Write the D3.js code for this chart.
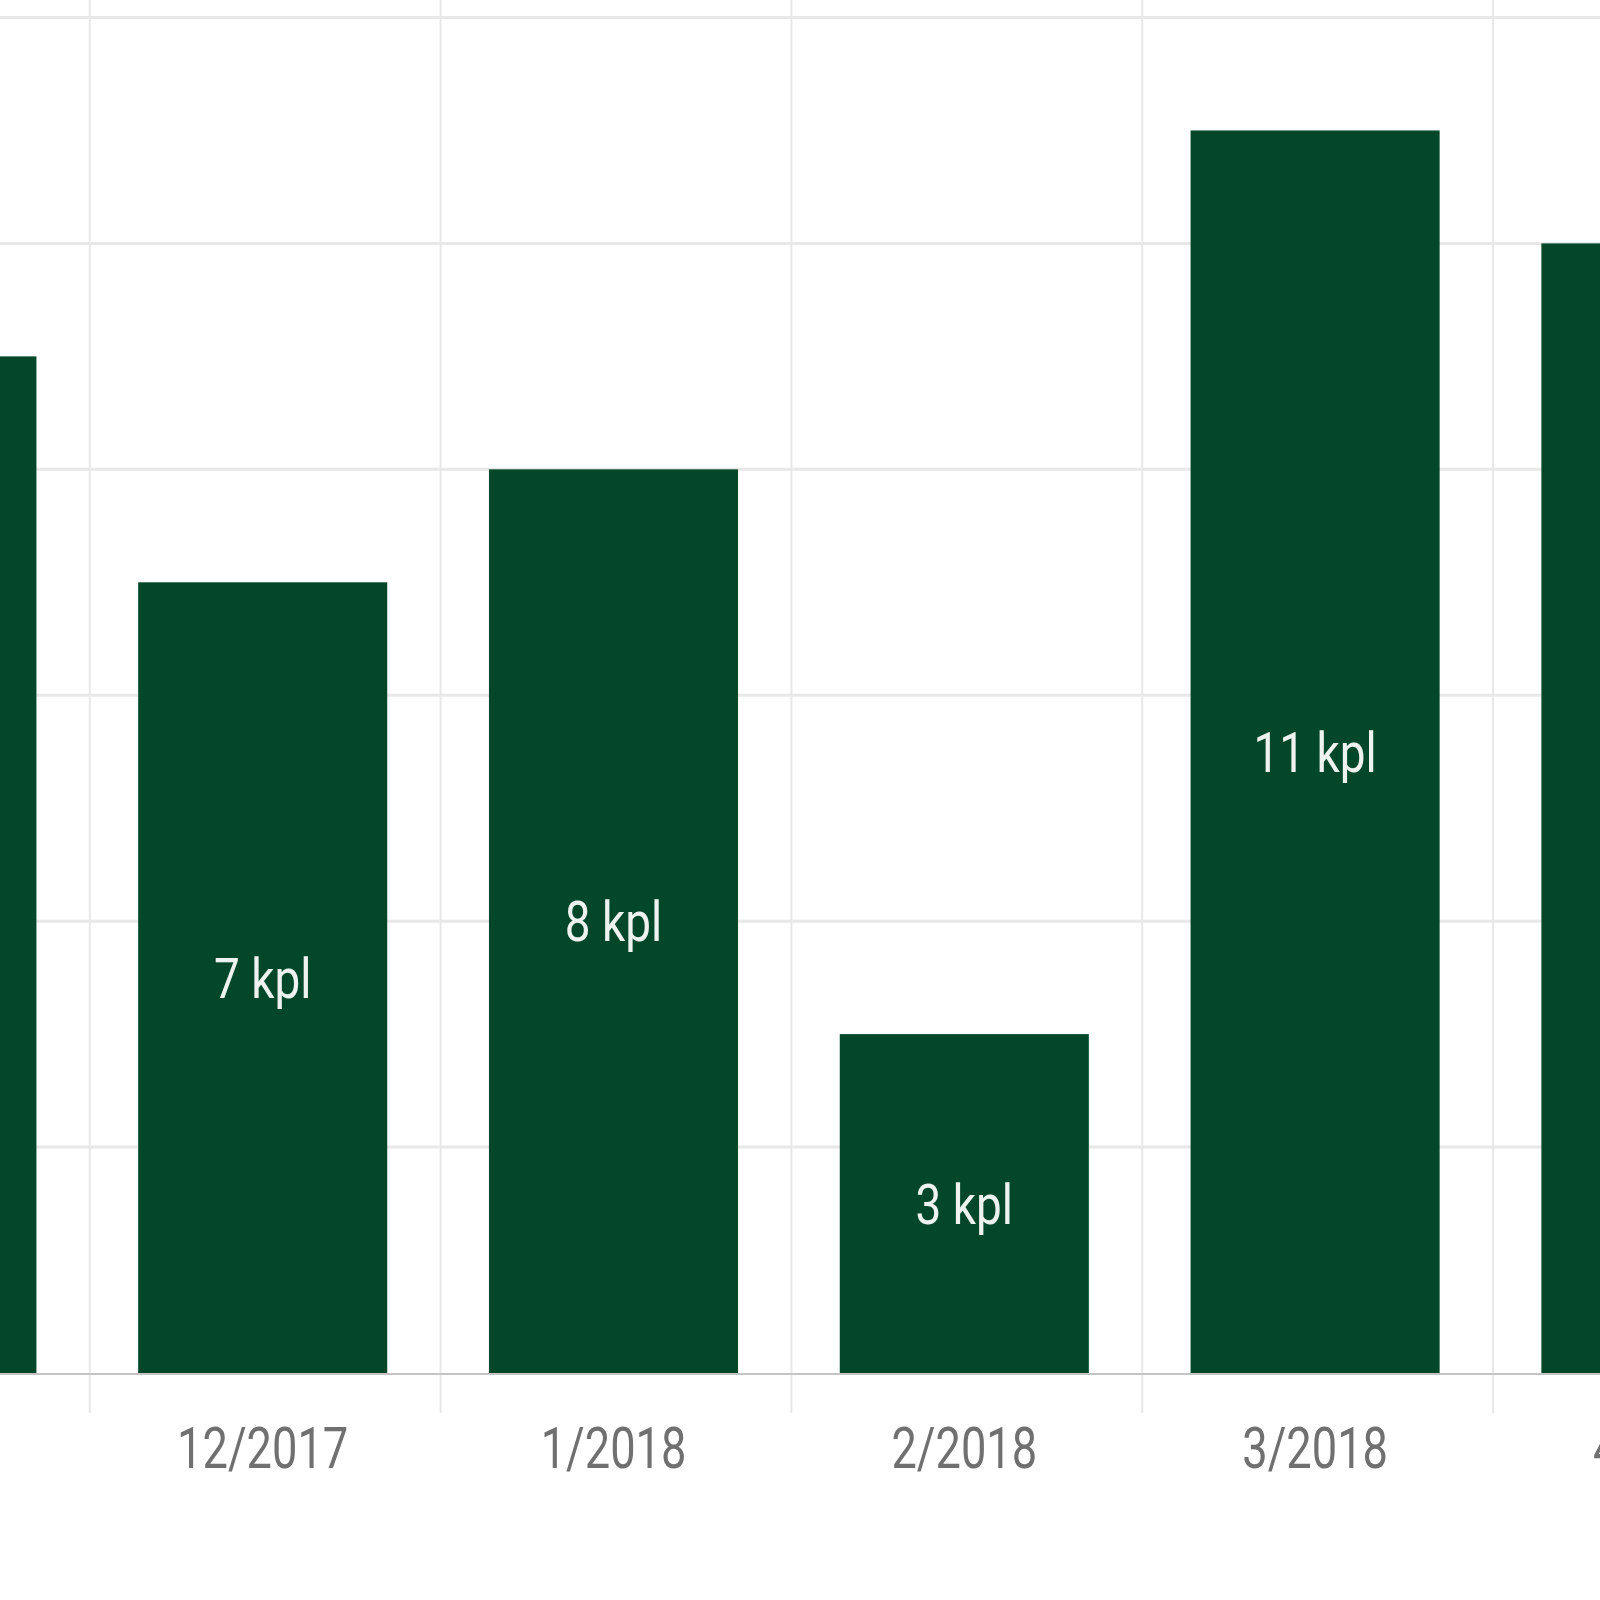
<!DOCTYPE html>
<html>
<head>
<meta charset="utf-8">
<script src="https://cdn.jsdelivr.net/npm/d3@7/dist/d3.min.js"></script>
<style>
  html, body { margin: 0; padding: 0; background: #ffffff; }
  svg { display: block; }
  text { font-family: Roboto, "Noto Sans", sans-serif; }
</style>
</head>
<body>
<svg id="chart" width="1600" height="1600"></svg>
<script>
const categories = ["11/2017", "12/2017", "1/2018", "2/2018", "3/2018", "4/2018"];
const values = [9, 7, 8, 3, 11, 10];
const yTicks = [0, 2, 4, 6, 8, 10, 12];
const unit = "kpl";

const W = 1600, H = 1600;
const svg = d3.select("#chart");

const step = 350.8;
const bandStart = 89.8 - step;
const pInner = 0.29;
const barShift = -2.5;
const x = d3.scaleBand()
  .domain(categories)
  .range([bandStart, bandStart + step * categories.length])
  .paddingInner(pInner)
  .paddingOuter(pInner / 2);

const baseY = 1373;
const y = d3.scaleLinear().domain([0, 12]).range([baseY, 17.5]);

// horizontal gridlines
svg.append("g").selectAll("line")
  .data(yTicks.filter(t => t > 0))
  .join("line")
  .attr("x1", 0).attr("x2", W)
  .attr("y1", d => y(d)).attr("y2", d => y(d))
  .attr("stroke", "#e8e8e8").attr("stroke-width", 3);

// vertical gridlines at band boundaries
const bounds = categories.map(c => x(c) - x.step() * pInner / 2);
bounds.push(bounds[bounds.length - 1] + x.step());
svg.append("g").selectAll("line")
  .data(bounds)
  .join("line")
  .attr("x1", d => d).attr("x2", d => d)
  .attr("y1", 0).attr("y2", baseY + 40)
  .attr("stroke", "#e8e8e8").attr("stroke-width", 2);

// bars
svg.append("g").selectAll("rect")
  .data(categories)
  .join("rect")
  .attr("x", d => x(d) + barShift)
  .attr("width", x.bandwidth())
  .attr("y", (d, i) => y(values[i]))
  .attr("height", (d, i) => baseY - y(values[i]))
  .attr("fill", "#02472a");

// baseline
svg.append("line")
  .attr("x1", 0).attr("x2", W)
  .attr("y1", baseY + 1).attr("y2", baseY + 1)
  .attr("stroke", "#c4c4c4").attr("stroke-width", 2);

// bar labels (condensed by horizontal scaling)
svg.append("g").selectAll("text")
  .data(categories)
  .join("text")
  .attr("transform", (d, i) =>
    `translate(${x(d) + x.bandwidth() / 2 + barShift},${(y(values[i]) + baseY) / 2}) scale(0.82,1)`)
  .attr("dy", "0.36em")
  .attr("text-anchor", "middle")
  .attr("font-size", 56)
  .attr("fill", "#eef3ef")
  .text((d, i) => values[i] + " " + unit);

// x axis labels
svg.append("g").selectAll("text")
  .data(categories)
  .join("text")
  .attr("transform", d => `translate(${x(d) + x.bandwidth() / 2 + barShift},1468) scale(0.78,1)`)
  .attr("text-anchor", "middle")
  .attr("font-size", 58)
  .attr("fill", "#707070")
  .text(d => d);
</script>
</body>
</html>
